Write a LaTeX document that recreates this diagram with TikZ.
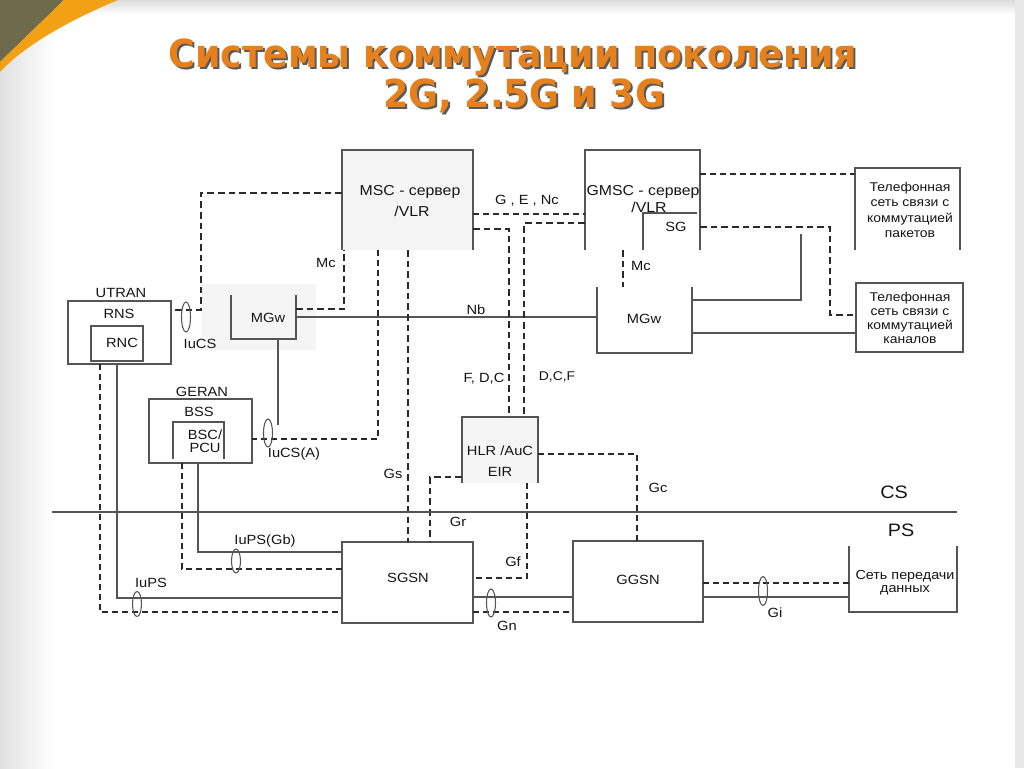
\documentclass[tikz,border=0pt]{standalone}
\usepackage{fontspec}
\setmainfont{Liberation Sans}[FakeStretch=1.1]
\newfontfamily\titlefont{DejaVu Sans}[FakeStretch=0.94]
\usetikzlibrary{fit,calc}
\definecolor{ttl}{HTML}{E5801C}
\definecolor{shd}{HTML}{5A5A5A}
\definecolor{lc}{HTML}{555555}
\definecolor{dc}{HTML}{2A2A2A}
\definecolor{tc}{HTML}{151515}
\definecolor{olive}{HTML}{6E6B4D}
\definecolor{orng}{HTML}{F2A014}
\definecolor{boxfill}{HTML}{F5F5F5}
\begin{document}
\begin{tikzpicture}[x=0.75pt,y=-0.75pt,
  box/.style={draw=lc, line width=0.8pt, inner sep=0, outer sep=0},
  obox/.style={inner sep=0, outer sep=0},
  ln/.style={draw=lc, line width=0.8pt},
  dsh/.style={draw=dc, line width=1pt, dash pattern=on 4.5pt off 3pt},
  hdsh/.style={draw=dc, line width=1.7pt, dash pattern=on 5pt off 3pt},
  lbl/.style={font=\fontsize{10}{12}\selectfont, inner sep=0, text=tc, align=center},
  blbl/.style={font=\fontsize{10.8}{12}\selectfont, inner sep=0, text=tc, align=center},
  slbl/.style={font=\fontsize{9.5}{11.4}\selectfont, inner sep=0, text=tc, align=center},
  ell/.style={draw=lc, line width=0.8pt},
  ttext/.style={font=\titlefont\bfseries\fontsize{29}{30}\selectfont, inner sep=0}]
\useasboundingbox (0,0) rectangle (1024,768);
% background
\fill[white] (0,0) rectangle (1024,768);
\shade[left color=black!12, right color=white] (0,0) rectangle (55,768);
\shade[top color=black!14, bottom color=white] (55,0) rectangle (1024,14);
\fill[black!9] (1015,0) rectangle (1024,768);
\fill[olive] (0,0) -- (64,0) -- (0,62) -- cycle;
\fill[orng] (64,0) -- (118,0) .. controls (70,20) and (25,45) .. (0,72) -- (0,62) -- cycle;
% title
\node[ttext, text=shd, anchor=base] (t1s) at (515,69) {Системы коммутации поколения};
\node[ttext, text=ttl, anchor=base] (t1) at (513,67) {Системы коммутации поколения};
\node[ttext, text=shd, anchor=base] (t2s) at (526,109) {2G, 2.5G и 3G};
\node[ttext, text=ttl, anchor=base] (t2) at (524,107) {2G, 2.5G и 3G};

% faint backdrop behind left MGw
\fill[black!4] (202,284) rectangle (316,350);

% ---- boxes ----
\node[obox, fill=boxfill, fit={(342,150)(473,250)}] (msc) {};
\draw[ln] (msc.south west) -- (msc.north west) -- (msc.north east) -- (msc.south east);
\node[obox, fit={(585,150)(700,250)}] (gmsc) {};
\draw[ln] (gmsc.south west) -- (gmsc.north west) -- (gmsc.north east) -- (gmsc.south east);
\coordinate (sgc) at (643,250);
\draw[ln] (sgc) -- (643,213) -- (697,213);
\node[obox, fit={(855,168)(960,250)}] (pkt) {};
\draw[ln] (pkt.south west) -- (pkt.north west) -- (pkt.north east) -- (pkt.south east);
\node[box, fit={(856,283)(963,352)}] (chan) {};
\node[obox, fit={(231,295)(296,339)}] (mgwa) {};
\draw[ln] (mgwa.north west) -- (mgwa.south west) -- (mgwa.south east) -- (mgwa.north east);
\node[obox, fit={(597,287)(692,353)}] (mgwb) {};
\draw[ln] (mgwb.north west) -- (mgwb.south west) -- (mgwb.south east) -- (mgwb.north east);
\node[box, fit={(68,301)(171,364)}] (utran) {};
\node[box, fit={(91,326)(143,361)}] (rnc) {};
\node[box, fit={(149,399)(252,463)}] (geran) {};
\node[obox, fit={(173,422)(224,459)}] (bsc) {};
\draw[ln] (bsc.south west) -- (bsc.north west) -- (bsc.north east) -- (bsc.south east);
\node[obox, fill=boxfill, fit={(462,417)(538,483)}] (hlr) {};
\draw[ln] (hlr.south west) -- (hlr.north west) -- (hlr.north east) -- (hlr.south east);
\node[box, fit={(342,542)(473,623)}] (sgsn) {};
\node[box, fit={(573,541)(703,622)}] (ggsn) {};
\node[obox, fit={(849,546)(957,612)}] (data) {};
\draw[ln] (data.north west) -- (data.south west) -- (data.south east) -- (data.north east);

% ---- connectors ----
\draw[hdsh] (msc.west |- 0,193) -| (201,310) -- (utran.east |- 0,310);
\draw[hdsh] (mgwa.east |- 0,309) -| (msc.south -| 344,0);
\draw[ln] (mgwa.east |- 0,317) -- (mgwb.west |- 0,317);
\coordinate (mgwaend) at (278,425);
\draw[ln] (mgwa.south -| 278,0) -- (mgwaend);
\draw[dsh] (msc.south -| 378,0) |- (geran.east |- 0,439);
\draw[hdsh] (msc.south -| 408,0) -- (sgsn.north -| 408,0);
\draw[dsh] (msc.east |- 0,214) -- (gmsc.west |- 0,214);
\draw[hdsh] (msc.east |- 0,229) -| (hlr.north -| 509,0);
\draw[hdsh] (gmsc.west |- 0,223) -| (hlr.north -| 524,0);
\draw[hdsh] (gmsc.south -| 623,0) -- (mgwb.north -| 623,0);
\draw[dsh] (gmsc.east |- 0,174) -- (pkt.west |- 0,174);
\draw[hdsh] (gmsc.east |- 0,227) -| (830,315) -- (chan.west |- 0,315);
\coordinate (mgwbend) at (801,234);
\draw[ln] (mgwb.east |- 0,300) -| (mgwbend);
\draw[ln] (mgwb.east |- 0,333) -- (chan.west |- 0,333);
\draw[dsh] (utran.south -| 100,0) |- (sgsn.west |- 0,612);
\draw[ln] (utran.south -| 117,0) |- (sgsn.west |- 0,598);
\draw[dsh] (geran.south -| 182,0) |- (sgsn.west |- 0,569);
\draw[ln] (geran.south -| 198,0) |- (sgsn.west |- 0,552);
\draw[dsh] (hlr.east |- 0,454) -| (ggsn.north -| 637,0);
\draw[hdsh] (hlr.west |- 0,477) -| (sgsn.north -| 430,0);
\draw[dsh] (hlr.south -| 527,0) |- (sgsn.east |- 0,578);
\draw[ln] (sgsn.east |- 0,597) -- (ggsn.west |- 0,597);
\draw[dsh] (sgsn.east |- 0,612) -- (ggsn.west |- 0,612);
\draw[dsh] (ggsn.east |- 0,583) -- (data.west |- 0,583);
\draw[ln] (ggsn.east |- 0,597) -- (data.west |- 0,597);
\coordinate (csl) at (52,512);
\coordinate (csr) at (957,512);
\draw[ln] (csl) -- (csr);

% interface ellipses
\draw[ell] (186,317) ellipse [x radius=4.5, y radius=15];
\draw[ell] (268,433) ellipse [x radius=4.5, y radius=14];
\draw[ell] (236,561) ellipse [x radius=4.5, y radius=12];
\draw[ell] (137,604) ellipse [x radius=4.5, y radius=12.5];
\draw[ell] (491,603) ellipse [x radius=4.5, y radius=14];
\draw[ell] (763,591) ellipse [x radius=4.5, y radius=14.5];

% ---- texts ----
\node[blbl] (lmsc) at (410,192) {MSC - сервер};
\node[blbl] (lvlr1) at (412,211) {/VLR};
\node[lbl] (lgen) at (527,201) {G , E , Nc};
\node[blbl] (lgmsc) at (643,192) {GMSC - сервер};
\node[blbl] (lvlr2) at (649,207) {/VLR};
\node[lbl] (lsg) at (676,227) {SG};
\node[lbl] (lmc1) at (326,263) {Mc};
\node[lbl] (lmc2) at (641,266) {Mc};
\node[slbl] (lpkt) at (910,210) {Телефонная\\сеть  связи с\\коммутацией\\пакетов};
\node[slbl, font=\fontsize{9.5}{10.7}\selectfont] (lchan) at (910,318) {Телефонная\\сеть связи с\\коммутацией\\каналов};
\node[lbl] (lutran) at (121,293) {UTRAN};
\node[lbl] (lrns) at (119,314) {RNS};
\node[lbl] (lrnc) at (122,343) {RNC};
\node[lbl] (liucs) at (200,344) {IuCS};
\node[lbl] (lmgwa) at (268,318) {MGw};
\node[lbl] (lmgwb) at (644,319) {MGw};
\node[lbl] (lnb) at (476,310) {Nb};
\node[lbl] (lfdc) at (484,379) {F, D,C};
\node[slbl] (ldcf) at (557,377) {D,C,F};
\node[lbl] (lgeran) at (202,392) {GERAN};
\node[lbl] (lbss) at (199,412) {BSS};
\node[lbl, font=\fontsize{10}{9.8}\selectfont] (lbsc) at (205,441) {BSC/\\PCU};
\node[lbl] (liucsa) at (294,454) {IuCS(A)};
\node[lbl] (lhlr) at (500,451) {HLR /AuC};
\node[lbl] (leir) at (500,472) {EIR};
\node[lbl] (lgs) at (393,474) {Gs};
\node[lbl] (lgc) at (658,488) {Gc};
\node[lbl, font=\fontsize{13.5}{15}\selectfont] (lcs) at (894,492) {CS};
\node[lbl, font=\fontsize{13.5}{15}\selectfont] (lps) at (901,530) {PS};
\node[lbl] (lgr) at (458,522) {Gr};
\node[lbl] (liupsgb) at (265,541) {IuPS(Gb)};
\node[lbl] (lgf) at (513,562) {Gf};
\node[lbl] (liups) at (151,583) {IuPS};
\node[lbl] (lsgsn) at (408,578) {SGSN};
\node[lbl] (lggsn) at (638,580) {GGSN};
\node[lbl] (lgn) at (507,626) {Gn};
\node[lbl] (lgi) at (775,613) {Gi};
\node[slbl, font=\fontsize{9.8}{10}\selectfont] (ldata) at (905,583) {Сеть передачи\\данных};
\end{tikzpicture}
\end{document}
